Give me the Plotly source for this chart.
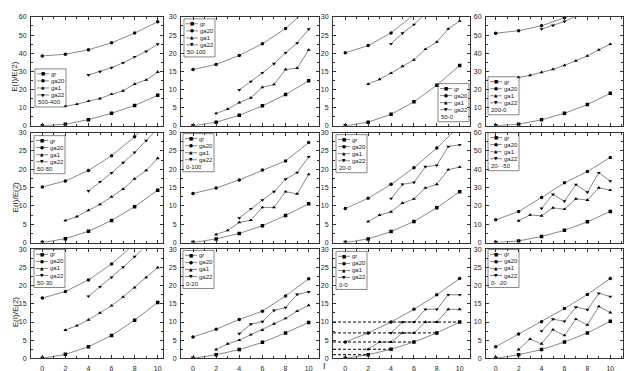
import plotly.graph_objects as go

W, H = 634, 371

# ---------------- data ----------------
I_even = [0, 2, 4, 6, 8, 10]
I_ga1 = [2, 3, 4, 5, 6, 7, 8, 9, 10]
I_ga22 = [4, 5, 6, 7, 8, 9, 10]

series_names = ["gr", "ga20", "ga1", "ga22"]
panel_labels = ["500-400", "50-100", "50-0", "200-0",
                "50-50", "0-100", "20-0", "20- -50",
                "50-30", "0-20", "0-0", "0- -20"]
y_max = [60, 30, 30, 60, 30, 30, 30, 60, 30, 30, 30, 30]

p1_gr = [0, 0.9, 3.4, 6.9, 11.2, 16.8]
p1_ga20 = [38.5, 39.4, 41.9, 45.7, 51.1, 57.3]
p1_ga1 = [10.8, 11.9, 13.6, 15.0, 17.4, 19.3, 23.0, 25.3, 29.6]
p1_ga22 = [28.0, 29.8, 32.0, 34.7, 38.0, 41.0, 45.0]

p2_gr = [0, 1.0, 2.9, 5.5, 8.6, 12.4]
p2_ga20 = [15.5, 16.9, 19.4, 22.6, 26.8, 32.5]
p2_ga1 = [3.4, 4.6, 6.4, 7.7, 10.6, 11.4, 15.5, 15.9, 20.9]
p2_ga22 = [9.9, 12.2, 14.6, 17.1, 20.1, 22.8, 26.6]

p3_gr = [0, 1.0, 3.2, 6.6, 11.2, 16.6]
p3_ga20 = [20.1, 22.1, 25.6, 30.6, 36.5, 43.0]
p3_ga1 = [11.5, 12.8, 14.5, 16.4, 18.2, 21.1, 23.1, 26.7, 28.9]
p3_ga22 = [22.6, 25.5, 27.9, 31.0, 34.0, 37.0, 40.0]

p4_gr = [0, 0.9, 3.3, 6.9, 11.7, 17.9]
p4_ga20 = [51.0, 52.4, 55.1, 59.6, 65.0, 72.0]
p4_ga1 = [26.7, 27.8, 29.5, 31.1, 33.3, 35.8, 38.5, 41.9, 45.0]
p4_ga22 = [53.3, 55.3, 57.5, 60.5, 63.5, 67.0, 70.0]

p5_gr = [0, 1.07, 3.1, 6.0, 9.8, 14.3]
p5_ga20 = [15.2, 16.8, 19.7, 23.7, 28.9, 35.0]
p5_ga1 = [6.0, 7.1, 8.8, 10.4, 12.5, 14.6, 17.4, 19.7, 23.0]
p5_ga22 = [14.1, 16.6, 19.0, 21.8, 24.6, 27.8, 31.2]

p6_gr = [0, 1.0, 2.5, 4.6, 7.4, 10.6]
p6_ga20 = [13.4, 14.9, 17.1, 19.8, 22.3, 27.3]
p6_ga1 = [2.2, 3.3, 5.5, 6.1, 9.6, 9.6, 13.9, 13.3, 18.6]
p6_ga22 = [6.7, 9.2, 11.6, 13.9, 17.3, 19.1, 23.4]

p7_gr = [0, 1.0, 3.0, 5.75, 9.5, 13.9]
p7_ga20 = [9.3, 12.1, 15.9, 20.4, 25.8, 32.0]
p7_ga1 = [5.75, 7.5, 8.4, 10.8, 11.9, 14.9, 15.9, 19.9, 20.6]
p7_ga22 = [12.0, 15.9, 16.4, 20.7, 21.1, 26.2, 26.7]

p8_gr = [0, 0.9, 3.3, 6.7, 11.3, 17.0]
p8_ga20 = [12.4, 17.0, 24.6, 32.6, 38.8, 46.5]
p8_ga1 = [11.9, 15.1, 14.6, 19.0, 18.2, 23.9, 23.2, 29.9, 28.6]
p8_ga22 = [18.6, 26.3, 22.6, 31.7, 27.5, 38.1, 33.6]

p9_gr = [0, 1.1, 3.2, 6.3, 10.5, 15.4]
p9_ga20 = [16.6, 18.4, 21.6, 26.0, 31.5, 38.0]
p9_ga1 = [7.8, 9.0, 10.6, 12.5, 14.5, 16.9, 19.5, 22.3, 25.0]
p9_ga22 = [17.1, 19.7, 22.3, 25.1, 28.0, 31.0, 34.0]

p10_gr = [0, 1.0, 2.4, 4.4, 7.0, 9.9]
p10_ga20 = [5.9, 8.0, 10.7, 13.0, 17.2, 21.9]
p10_ga1 = [2.4, 4.0, 5.0, 6.5, 7.8, 9.5, 11.0, 13.0, 14.6]
p10_ga22 = [6.8, 9.4, 10.1, 13.2, 14.0, 17.6, 18.3]

p11_gr = [0, 1.0, 2.5, 4.5, 7.0, 10.0]
p11_ga20 = [4.5, 7.0, 10.0, 13.5, 17.5, 22.0]
p11_ga1 = [2.5, 4.5, 4.5, 7.0, 7.0, 10.0, 10.0, 13.5, 13.5]
p11_ga22 = [7.0, 10.0, 10.0, 13.5, 13.5, 17.5, 17.5]

p12_gr = [0, 1.0, 2.4, 4.5, 7.0, 10.2]
p12_ga20 = [3.2, 6.7, 10.1, 13.7, 17.6, 22.0]
p12_ga1 = [2.4, 5.3, 4.0, 7.9, 6.3, 10.8, 9.2, 14.3, 12.6]
p12_ga22 = [7.5, 10.8, 10.2, 14.1, 13.4, 17.9, 17.0]

panels = [
    (p1_gr, p1_ga20, p1_ga1, p1_ga22), (p2_gr, p2_ga20, p2_ga1, p2_ga22),
    (p3_gr, p3_ga20, p3_ga1, p3_ga22), (p4_gr, p4_ga20, p4_ga1, p4_ga22),
    (p5_gr, p5_ga20, p5_ga1, p5_ga22), (p6_gr, p6_ga20, p6_ga1, p6_ga22),
    (p7_gr, p7_ga20, p7_ga1, p7_ga22), (p8_gr, p8_ga20, p8_ga1, p8_ga22),
    (p9_gr, p9_ga20, p9_ga1, p9_ga22), (p10_gr, p10_ga20, p10_ga1, p10_ga22),
    (p11_gr, p11_ga20, p11_ga1, p11_ga22), (p12_gr, p12_ga20, p12_ga1, p12_ga22),
]

# ---------------- layout geometry (pixels) ----------------
col_px = [(23, 155), (173, 311), (325, 462), (478, 615)]
col_zero_ten = [(34.3, 149.7), (185, 300.7), (337.3, 451.7), (487.7, 602.3)]
row_px = [(5, 116), (123, 235), (242, 353)]

legend_box = [(27, 58), (176, 7), (430, 73), (480, 66),
              (26, 126), (175, 124), (328, 125), (480, 123),
              (26, 242), (175, 243), (328, 244), (480, 242)]

FONT = "Arial, Liberation Sans, sans-serif"
LINE_COL = "#7a7a7a"
MK = dict(color="black", size=3.5)
symbols = ["square", "circle", "triangle-up", "triangle-down"]
glyphs = ["\u25a0", "\u25cf", "\u25b2", "\u25bc"]
STEP = 7.2

fig = go.Figure()
shapes = []
annotations = []


def fx(px):
    return px / W


def fy(py):
    return 1 - py / H


for k, data in enumerate(panels):
    r, c = divmod(k, 4)
    n = k + 1
    xa = "x" if n == 1 else f"x{n}"
    ya = "y" if n == 1 else f"y{n}"
    xs = [I_even, I_even, I_ga1, I_ga22]
    for s in range(4):
        fig.add_trace(go.Scatter(
            x=xs[s], y=data[s], mode="lines+markers", name=series_names[s],
            xaxis=xa, yaxis=ya, showlegend=False,
            line=dict(color=LINE_COL, width=0.9),
            marker=dict(symbol=symbols[s], **MK),
        ))

    L, R = col_px[c]
    p0, p10 = col_zero_ten[c]
    ppu = (p10 - p0) / 10.0
    xr = [(L - p0) / ppu, (R - p0) / ppu]
    T, B = row_px[r]
    ymax = y_max[k]
    ydt = 10 if ymax == 60 else 5
    axkey_x = "xaxis" if n == 1 else f"xaxis{n}"
    axkey_y = "yaxis" if n == 1 else f"yaxis{n}"
    common = dict(showline=True, linecolor="#333", linewidth=1, mirror="allticks",
                  ticks="inside", ticklen=3, tickwidth=0.8, tickcolor="#333",
                  showgrid=False, zeroline=False,
                  tickfont=dict(family=FONT, size=7, color="#222"))
    fig.layout[axkey_x] = dict(
        domain=[fx(L), fx(R)], range=xr, anchor=ya, dtick=2, tick0=0,
        showticklabels=(r == 2), ticklabelstandoff=3,
        minor=dict(dtick=1, tick0=0, ticks="inside", ticklen=2, tickcolor="#333", showgrid=False),
        **common)
    fig.layout[axkey_y] = dict(
        domain=[fy(B), fy(T)], range=[0, ymax], anchor=xa, dtick=ydt, tick0=0,
        showticklabels=True, ticklabelstandoff=2,
        minor=dict(dtick=ydt / 2, tick0=0, ticks="inside", ticklen=2, tickcolor="#333", showgrid=False),
        **common)

    # legend drawn by hand
    bx, by = legend_box[k]
    bw = 31
    bh = 5.0 + 4 * STEP + 5.0
    shapes.append(dict(type="rect", xref="paper", yref="paper",
                       x0=fx(bx), x1=fx(bx + bw), y0=fy(by + bh), y1=fy(by),
                       line=dict(color="#555", width=0.7)))
    for s in range(4):
        ey = by + 5.0 + s * STEP
        shapes.append(dict(type="line", xref="paper", yref="paper",
                           x0=fx(bx + 2), x1=fx(bx + 14), y0=fy(ey), y1=fy(ey),
                           line=dict(color=LINE_COL, width=0.9)))
        annotations.append(dict(xref="paper", yref="paper", x=fx(bx + 8), y=fy(ey),
                                text=glyphs[s], showarrow=False, xanchor="center", yanchor="middle",
                                borderpad=0,
                                font=dict(family="DejaVu Sans", size=4.5, color="black")))
        annotations.append(dict(xref="paper", yref="paper", x=fx(bx + 15), y=fy(ey),
                                text=series_names[s], showarrow=False, xanchor="left", yanchor="middle",
                                borderpad=0,
                                font=dict(family=FONT, size=6, color="#222")))
    annotations.append(dict(xref="paper", yref="paper", x=fx(bx + 1.5), y=fy(by + 5.0 + 4 * STEP),
                            text=panel_labels[k], showarrow=False, xanchor="left", yanchor="middle",
                            borderpad=0,
                            font=dict(family=FONT, size=6, color="#222")))

    # reference dashed lines in the 0-0 panel, ending at each ground-band level
    if k == 10:
        for xi, yi in zip(I_even[1:], data[0][1:]):
            shapes.append(dict(type="line", xref=xa, yref=ya, x0=xr[0], x1=xi, y0=yi, y1=yi,
                               line=dict(color="black", width=1, dash="3px,2px")))

# y-axis titles
for r, yc in enumerate([66, 189, 306]):
    annotations.append(dict(xref="paper", yref="paper", x=fx(7), y=fy(yc), text="E(I)/E(2)",
                            textangle=-90, showarrow=False, xanchor="center", yanchor="middle",
                            font=dict(family=FONT, size=8, color="#222")))
# x-axis title
annotations.append(dict(xref="paper", yref="paper", x=fx(316.5), y=fy(361), text="I",
                        showarrow=False, xanchor="center", yanchor="middle", borderpad=0,
                        font=dict(family=FONT, size=9, color="#222")))

fig.update_layout(width=W, height=H, margin=dict(l=0, r=0, t=0, b=0),
                  paper_bgcolor="white", plot_bgcolor="white",
                  shapes=shapes, annotations=annotations, showlegend=False)

fig.write_html("out.html")
